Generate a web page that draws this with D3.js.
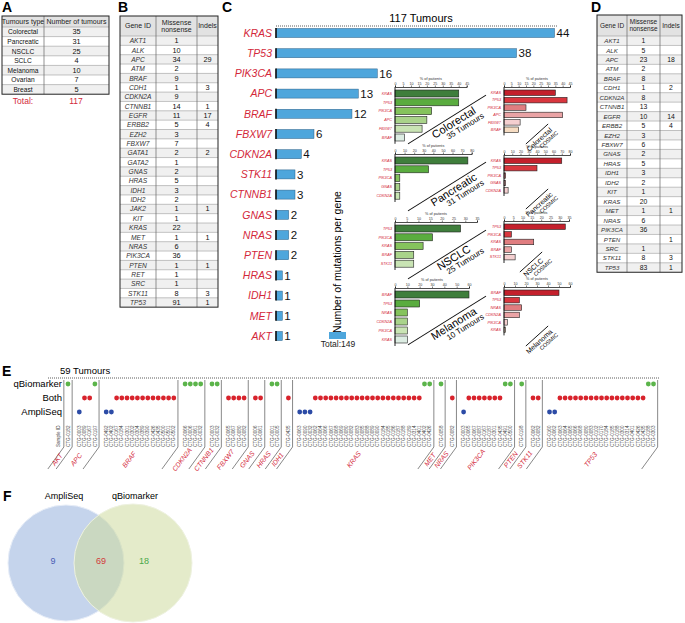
<!DOCTYPE html>
<html><head><meta charset="utf-8">
<script src="https://cdn.jsdelivr.net/npm/d3@7"></script>
<style>body{margin:0;background:#fff} text{font-family:"Liberation Sans",Arial,sans-serif}</style>
</head><body><svg id="fig" width="685" height="623"></svg>
<script>
// ---- panel A
var tumourTypes = ["Colorectal","Pancreatic","NSCLC","SCLC","Melanoma","Ovarian","Breast"];
var tumourCounts = [35,31,25,4,10,7,5];

// ---- panel B (all mutations)
var genesB = ["AKT1","ALK","APC","ATM","BRAF","CDH1","CDKN2A","CTNNB1","EGFR","ERBB2","EZH2","FBXW7","GATA1","GATA2","GNAS","HRAS","IDH1","IDH2","JAK2","KIT","KRAS","MET","NRAS","PIK3CA","PTEN","RET","SRC","STK11","TP53"];
var missenseB = [1,10,34,2,9,1,9,14,11,5,3,7,2,1,2,5,3,2,1,1,22,1,6,36,1,1,1,8,91];
var indelsB = [null,null,29,null,null,3,null,1,17,4,null,null,2,null,null,null,null,null,1,null,null,1,null,null,1,null,null,3,1];

// ---- panel D
var genesD = ["AKT1","ALK","APC","ATM","BRAF","CDH1","CDKN2A","CTNNB1","EGFR","ERBB2","EZH2","FBXW7","GNAS","HRAS","IDH1","IDH2","KIT","KRAS","MET","NRAS","PIK3CA","PTEN","SRC","STK11","TP53"];
var missenseD = [1,5,23,2,8,1,8,13,10,5,3,6,2,5,3,2,1,20,1,6,36,null,1,8,83];
var indelsD = [null,null,18,null,null,2,null,null,14,4,null,null,null,null,null,null,null,null,1,null,null,1,null,3,1];

// ---- panel C bars
var barGenes = ["KRAS","TP53","PIK3CA","APC","BRAF","FBXW7","CDKN2A","STK11","CTNNB1","GNAS","NRAS","PTEN","HRAS","IDH1","MET","AKT"];
var barCounts = [44,38,16,13,12,6,4,3,3,2,2,2,1,1,1,1];

// ---- panel C small charts (% of patients)
var crcGenes = ["KRAS","TP53","PIK3CA","APC","FBXW7","BRAF"];
var crcOurs = [40,40,23,20,17,6];
var crcCosmic = [35,43,15,40,11,10];
var panGenes = ["KRAS","TP53","PIK3CA","GNAS","CDKN2A"];
var panOurs = [76,35,5,5,5];
var panCosmic = [70,40,2,2,5];
var nsclcGenes = ["TP53","PIK3CA","KRAS","BRAF","STK11"];
var nsclcOurs = [28,16,12,8,8];
var nsclcCosmic = [33,4,16,4,6];
var melGenes = ["BRAF","TP53","NRAS","CDKN2A","PIK3CA","KRAS"];
var melOurs = [60,20,10,10,10,10];
var melCosmic = [50,14,16,14,3,1.5];

// ---- panel E : per gene, call per sample  (q = qBiomarker only, b = both, a = AmpliSeq only)
var eGenes = ["AKT","APC","BRAF","CDKN2A","CTNNB1","FBXW7","GNAS","HRAS","IDH1","KRAS","MET","NRAS","PIK3CA","PTEN","STK11","TP53"];
var eCalls = ["q","abbq","aabbbbbbbbbbbb","qqqq","qq","bbbb","bb","qq","b","aaabbbbbbbbbbbbbbbbbbbbbqq","q","b","abbbbbbbqq","q","bb","aabbbbbbbbbbbbbbbbbqq"];
var eSamples = [
 ["CTG-0182"],
 ["CTG-0003","CTG-0089","CTG-0167","CTG-0197"],
 ["CTG-0492","CTG-0402","CTG-0167","CTG-0184","CTG-0301","CTG-0302","CTG-0304","CTG-0389","CTG-0390","CTG-0426","CTG-0435","CTG-0500","CTG-0501","CTG-0502"],
 ["CTG-0066","CTG-0006","CTG-0061","CTG-0032"],
 ["CTG-0003","CTG-0032"],
 ["CTG-0065","CTG-0067","CTG-0080","CTG-0082"],
 ["CTG-0006","CTG-0061"],
 ["CTG-0001","CTG-0005"],
 ["CTG-0435"],
 ["CTG-0063","CTG-0090","CTG-0032","CTG-0062","CTG-0064","CTG-0066","CTG-0067","CTG-0068","CTG-0069","CTG-0080","CTG-0082","CTG-0083","CTG-0085","CTG-0088","CTG-0089","CTG-0090","CTG-0184","CTG-0185","CTG-0186","CTG-0187","CTG-0188","CTG-0189","CTG-0314","CTG-0401","CTG-0402","CTG-0426"],
 ["CTG-0058"],
 ["CTG-0082"],
 ["CTG-0003","CTG-0065","CTG-0067","CTG-0087","CTG-0167","CTG-0187","CTG-0301","CTG-0435","CTG-0491","CTG-0500"],
 ["CTG-0198"],
 ["CTG-0062","CTG-0082"],
 ["CTG-0160","CTG-0062","CTG-0063","CTG-0064","CTG-0065","CTG-0066","CTG-0068","CTG-0080","CTG-0083","CTG-0102","CTG-0170","CTG-0184","CTG-0185","CTG-0188","CTG-0300","CTG-0314","CTG-0401","CTG-0426","CTG-0435","CTG-0188","CTG-0303"]
];

// ---- panel F
var vennSets = ["AmpliSeq","qBiomarker"];
var vennCounts = [9,69,18];

var svg = d3.select("#fig");
var RED = "#d3283a";

function letter(t,x,y){ svg.append("text").attr("x",x).attr("y",y).attr("font-size",14).attr("font-weight","bold").text(t); }

// generic table
function table(x0,y0,widths,headH,rowH,heads,cols,fs,italicFirst){
  var g = svg.append("g");
  var xs=[x0]; widths.forEach(function(w){xs.push(xs[xs.length-1]+w);});
  var n = cols[0].length, W = xs[xs.length-1]-x0, H = headH+n*rowH;
  g.append("rect").attr("x",x0).attr("y",y0).attr("width",W).attr("height",headH).attr("fill","#e2e2e2");
  g.selectAll("rect.row").data(d3.range(n)).enter().append("rect").attr("class","row")
    .attr("x",x0).attr("y",function(i){return y0+headH+i*rowH;}).attr("width",W).attr("height",rowH)
    .attr("fill",function(i){return i%2?"#ffffff":"#f0f0f0";});
  g.selectAll("line.h").data(d3.range(n)).enter().append("line").attr("class","h")
    .attr("x1",x0).attr("x2",x0+W).attr("y1",function(i){return y0+headH+i*rowH;}).attr("y2",function(i){return y0+headH+i*rowH;})
    .attr("stroke","#888").attr("stroke-width",0.5);
  g.selectAll("line.v").data(xs.slice(1,-1)).enter().append("line").attr("class","v")
    .attr("x1",function(d){return d;}).attr("x2",function(d){return d;}).attr("y1",y0).attr("y2",y0+H)
    .attr("stroke","#666").attr("stroke-width",0.7);
  g.append("rect").attr("x",x0).attr("y",y0).attr("width",W).attr("height",H).attr("fill","none").attr("stroke","#222").attr("stroke-width",1);
  heads.forEach(function(h,j){
    var lines=h.split("\n");
    lines.forEach(function(l,k){
      g.append("text").attr("x",(xs[j]+xs[j+1])/2).attr("y",y0+headH/2+(k-(lines.length-1)/2)*fs*1.1+fs*0.35)
        .attr("text-anchor","middle").attr("font-size",fs).attr("fill","#222").text(l);
    });
  });
  cols.forEach(function(col,j){
    g.selectAll("text.c"+j).data(col).enter().append("text").attr("class","c"+j)
      .attr("x",(xs[j]+xs[j+1])/2).attr("y",function(d,i){return y0+headH+(i+0.5)*rowH+fs*0.36;})
      .attr("text-anchor","middle").attr("font-size",j==0?fs*0.95:fs*1.05)
      .attr("font-style",(j==0&&italicFirst)?"italic":null).attr("fill",j==0&&italicFirst?"#333":"#111")
      .text(function(d){return d==null?"":d;});
  });
}

// ---------- A
letter("A",2,12);
table(2,16,[42,65],11,9.6,["Tumours type","Number of tumours"],[tumourTypes,tumourCounts],7,false);
svg.append("text").attr("x",23).attr("y",104).attr("text-anchor","middle").attr("font-size",8.5).attr("fill",RED).text("Total:");
svg.append("text").attr("x",76).attr("y",104).attr("text-anchor","middle").attr("font-size",8.5).attr("fill",RED).text(d3.sum(tumourCounts));

// ---------- B
letter("B",118,12);
table(120,16,[36,41,21],20,9.35,["Gene ID","Missense\nnonsense","Indels"],[genesB,missenseB,indelsB],7,true);

// ---------- D
letter("D",591,12);
table(597,15,[30,33,22],21,9.45,["Gene ID","Missense\nnonsense","Indels"],[genesD,missenseD,indelsD],6.5,true);

// ---------- C main bars
letter("C",222,12);
var bx = d3.scaleLinear().domain([0,44]).range([276,554.5]);
var by = d3.scalePoint().domain(barGenes).range([33,336]);
svg.append("text").attr("x",421).attr("y",22).attr("text-anchor","middle").attr("font-size",11).text(d3.sum(tumourCounts)+" Tumours");
svg.append("line").attr("x1",276).attr("x2",557).attr("y1",26).attr("y2",26).attr("stroke","#333").attr("stroke-dasharray","1,1").attr("stroke-width",0.8);
var bars = svg.append("g");
bars.selectAll("rect").data(barGenes).enter().append("rect")
  .attr("x",bx(0)).attr("y",function(d){return by(d)-4.5;})
  .attr("width",function(d,i){return bx(barCounts[i])-bx(0);}).attr("height",9)
  .attr("fill","#4ea6dc").attr("stroke","#2a5f86").attr("stroke-width",0.5);
bars.selectAll("line").data(barGenes).enter().append("line")
  .attr("x1",bx(0)).attr("x2",bx(0)).attr("y1",function(d){return by(d)-5;}).attr("y2",function(d){return by(d)+5;})
  .attr("stroke","#111").attr("stroke-width",1.6);
bars.selectAll("text.g").data(barGenes).enter().append("text").attr("class","g")
  .attr("x",272).attr("y",function(d){return by(d)+3.8;}).attr("text-anchor","end")
  .attr("font-size",10.5).attr("font-style","italic").attr("fill",RED).text(function(d){return d;});
bars.selectAll("text.v").data(barGenes).enter().append("text").attr("class","v")
  .attr("x",function(d,i){return bx(barCounts[i])+2;}).attr("y",function(d){return by(d)+4.2;})
  .attr("font-size",11.5).attr("fill","#111").text(function(d,i){return barCounts[i];});
svg.append("text").attr("transform","translate(341,262) rotate(-90)").attr("text-anchor","middle").attr("font-size",10.5).text("Number of mutations per gene");
svg.append("rect").attr("x",329).attr("y",332).attr("width",17).attr("height",7).attr("fill","#4ea6dc");
svg.append("text").attr("x",338).attr("y",347).attr("text-anchor","middle").attr("font-size",8.5).attr("fill","#222").text("Total:"+d3.sum(barCounts));

// ---------- C small charts
var greens = ["#3f7e3c","#5aac3f","#85c35c","#a9d38a","#c9e4b4","#dcece2"];
var reds = ["#c4202c","#d9363e","#e07d80","#eaa3a5","#f4cfd0","#f6dcc2"];
function small(x0,axisY,genes,vals,dmax,step,width,spacing,barH,cols){
  var g = svg.append("g");
  var x = d3.scaleLinear().domain([0,dmax]).range([x0,x0+width]);
  var ax = d3.axisTop(x).tickValues(d3.range(0,dmax+0.001,step)).tickSize(1.5).tickPadding(1);
  var a = g.append("g").attr("transform","translate(0,"+axisY+")").call(ax);
  a.select(".domain").attr("stroke-width",0.7);
  a.selectAll("text").attr("font-size",3.6).attr("fill","#333");
  a.selectAll("line").attr("stroke-width",0.5);
  g.append("text").attr("x",x0+width/2).attr("y",axisY-7).attr("text-anchor","middle").attr("font-size",3.8).attr("fill","#333").text("% of patients");
  var y0 = axisY+3;
  g.selectAll("rect").data(genes).enter().append("rect")
    .attr("x",x0).attr("y",function(d,i){return y0+i*spacing;})
    .attr("width",function(d,i){return x(vals[i])-x0;}).attr("height",barH)
    .attr("fill",function(d,i){return cols[i];}).attr("stroke","#222").attr("stroke-width",0.6);
  g.selectAll("text.l").data(genes).enter().append("text").attr("class","l")
    .attr("x",x0-3).attr("y",function(d,i){return y0+i*spacing+barH/2+1.3;}).attr("text-anchor","end")
    .attr("font-size",3.8).attr("font-style","italic").attr("fill",RED).text(function(d){return d;});
  g.append("line").attr("x1",x0).attr("x2",x0).attr("y1",axisY).attr("y2",y0+genes.length*spacing+1).attr("stroke","#111").attr("stroke-width",0.9);
}
// diagonal caption: line centred at (mx,my), title / subtitle hanging below it
function slash(mx,my,len,ang,t1,t2,fs1,fs2,a1,p1,a2,p2){
  var g = svg.append("g").attr("transform","translate("+mx+","+my+") rotate("+ang+")");
  g.append("line").attr("x1",-len/2).attr("x2",len/2).attr("y1",0).attr("y2",0).attr("stroke","#111").attr("stroke-width",0.9);
  g.append("text").attr("x",a1).attr("y",p1).attr("text-anchor","middle").attr("font-size",fs1).text(t1);
  g.append("text").attr("x",a2).attr("y",p2).attr("text-anchor","middle").attr("font-size",fs2).text(t2);
}
small(395,87,crcGenes,crcOurs,45,5,71.7,8.8,7,greens);
small(395,154,panGenes,panOurs,80,10,76.7,8.8,7,greens);
small(395,222,nsclcGenes,nsclcOurs,35,5,82,8.8,7,greens);
small(395,288,melGenes,melOurs,60,10,74,9,7,greens);
[[87,"Colorectal","35 Tumours"],[154,"Pancreatic","31 Tumours"],[222,"NSCLC","25 Tumours"],[288,"Melanoma","10 Tumours"]].forEach(function(c){
  slash(447,c[0]+32.5,92,-32,c[1],c[2],11,8,4,10,12,18);
});

small(504,87,crcGenes,crcCosmic,45,5,66,7.4,5.5,reds);
small(504,155,panGenes,panCosmic,80,10,66,7.4,5.5,reds);
small(504,221,nsclcGenes,nsclcCosmic,35,5,65,7.6,5.5,reds);
small(504,287,melGenes,melCosmic,60,10,66,7.4,5.5,reds);
[[537,134,"Colorectal"],[537,199,"Pancreatic"],[531,262,"NSCLC"],[537,336,"Melanoma"]].forEach(function(c){
  slash(c[0],c[1],30,-42,c[2],"COSMIC",7,5.6,-2,8,5,14);
});

// ---------- E
letter("E",2,376);
var rowsE = {q:384,b:398,a:412};
var dotCol = {q:"#5bb44a",b:"#d8232c",a:"#2c4ba6"};
var step = 5.2, gap = 6.1, ex0 = 68;
var cols = [], bounds = [], k = 0;
eCalls.forEach(function(s,gi){
  var first = ex0 + k*step + gi*gap;
  s.split("").forEach(function(c,j){ cols.push({x:ex0+(k)*step+gi*gap,c:c,id:eSamples[gi][j]||""}); k++; });
  var last = ex0 + (k-1)*step + gi*gap;
  bounds.push({l:first-step/2-gap/2+1.5,r:last+step/2+gap/2-1.5,gene:eGenes[gi]});
});
svg.append("text").attr("x",60).attr("y",374).attr("font-size",9.5).text("59 Tumours");
svg.append("line").attr("x1",48).attr("x2",660).attr("y1",378).attr("y2",378).attr("stroke","#333").attr("stroke-dasharray","1,1").attr("stroke-width",0.8);
[["qBiomarker","q"],["Both","b"],["AmpliSeq","a"]].forEach(function(r){
  svg.append("text").attr("x",62).attr("y",rowsE[r[1]]+3.3).attr("text-anchor","end").attr("font-size",9.5).text(r[0]);
});
var eg = svg.append("g");
eg.selectAll("circle").data(cols).enter().append("circle")
  .attr("cx",function(d){return d.x;}).attr("cy",function(d){return rowsE[d.c];}).attr("r",2.4)
  .attr("fill",function(d){return dotCol[d.c];});
eg.selectAll("text.id").data(cols).enter().append("text").attr("class","id")
  .attr("transform",function(d){return "translate("+(d.x+1.6)+",447) rotate(-90)";})
  .attr("font-size",4.6).attr("fill","#444").text(function(d){return d.id;});
svg.append("text").attr("transform","translate(59.5,447) rotate(-90)").attr("font-size",4.6).attr("fill","#444").text("Sample ID");
var edges = [bounds[0].l].concat(bounds.map(function(b){return b.r;}));
eg.selectAll("path").data(edges).enter().append("path")
  .attr("d",function(x){return "M"+x+",380 L"+x+",447 L"+(x-16)+",469";})
  .attr("fill","none").attr("stroke","#555").attr("stroke-width",0.7);
eg.selectAll("text.gene").data(bounds).enter().append("text").attr("class","gene")
  .attr("transform",function(b){return "translate("+((b.l+b.r)/2-9)+",461) rotate(-52)";})
  .attr("text-anchor","middle").attr("font-size",6.8).attr("font-style","italic").attr("fill",RED)
  .text(function(b){return b.gene;});

// ---------- F
letter("F",3,501);
var vx = d3.scaleLinear().domain([0,1]).range([66,133]);
svg.append("circle").attr("cx",vx(0)).attr("cy",563).attr("r",58).attr("fill","#c5d4ec").attr("stroke","#e8eef8");
svg.append("circle").attr("cx",vx(1)).attr("cy",563).attr("r",59).attr("fill","#cddb9e").attr("fill-opacity",0.55).attr("stroke","#eef2e0");
svg.selectAll("text.vs").data(vennSets).enter().append("text").attr("class","vs")
  .attr("x",function(d,i){return vx(i)-2*(1-i)+2*i;}).attr("y",499).attr("text-anchor","middle").attr("font-size",9).text(function(d){return d;});
var vnumX = [53,101,144], vnumC = ["#4a5db5","#d23a3a","#4aa84a"];
svg.selectAll("text.vn").data(vennCounts).enter().append("text").attr("class","vn")
  .attr("x",function(d,i){return vnumX[i];}).attr("y",564).attr("text-anchor","middle").attr("font-size",9).attr("fill",function(d,i){return vnumC[i];}).text(function(d){return d;});
</script></body></html>
